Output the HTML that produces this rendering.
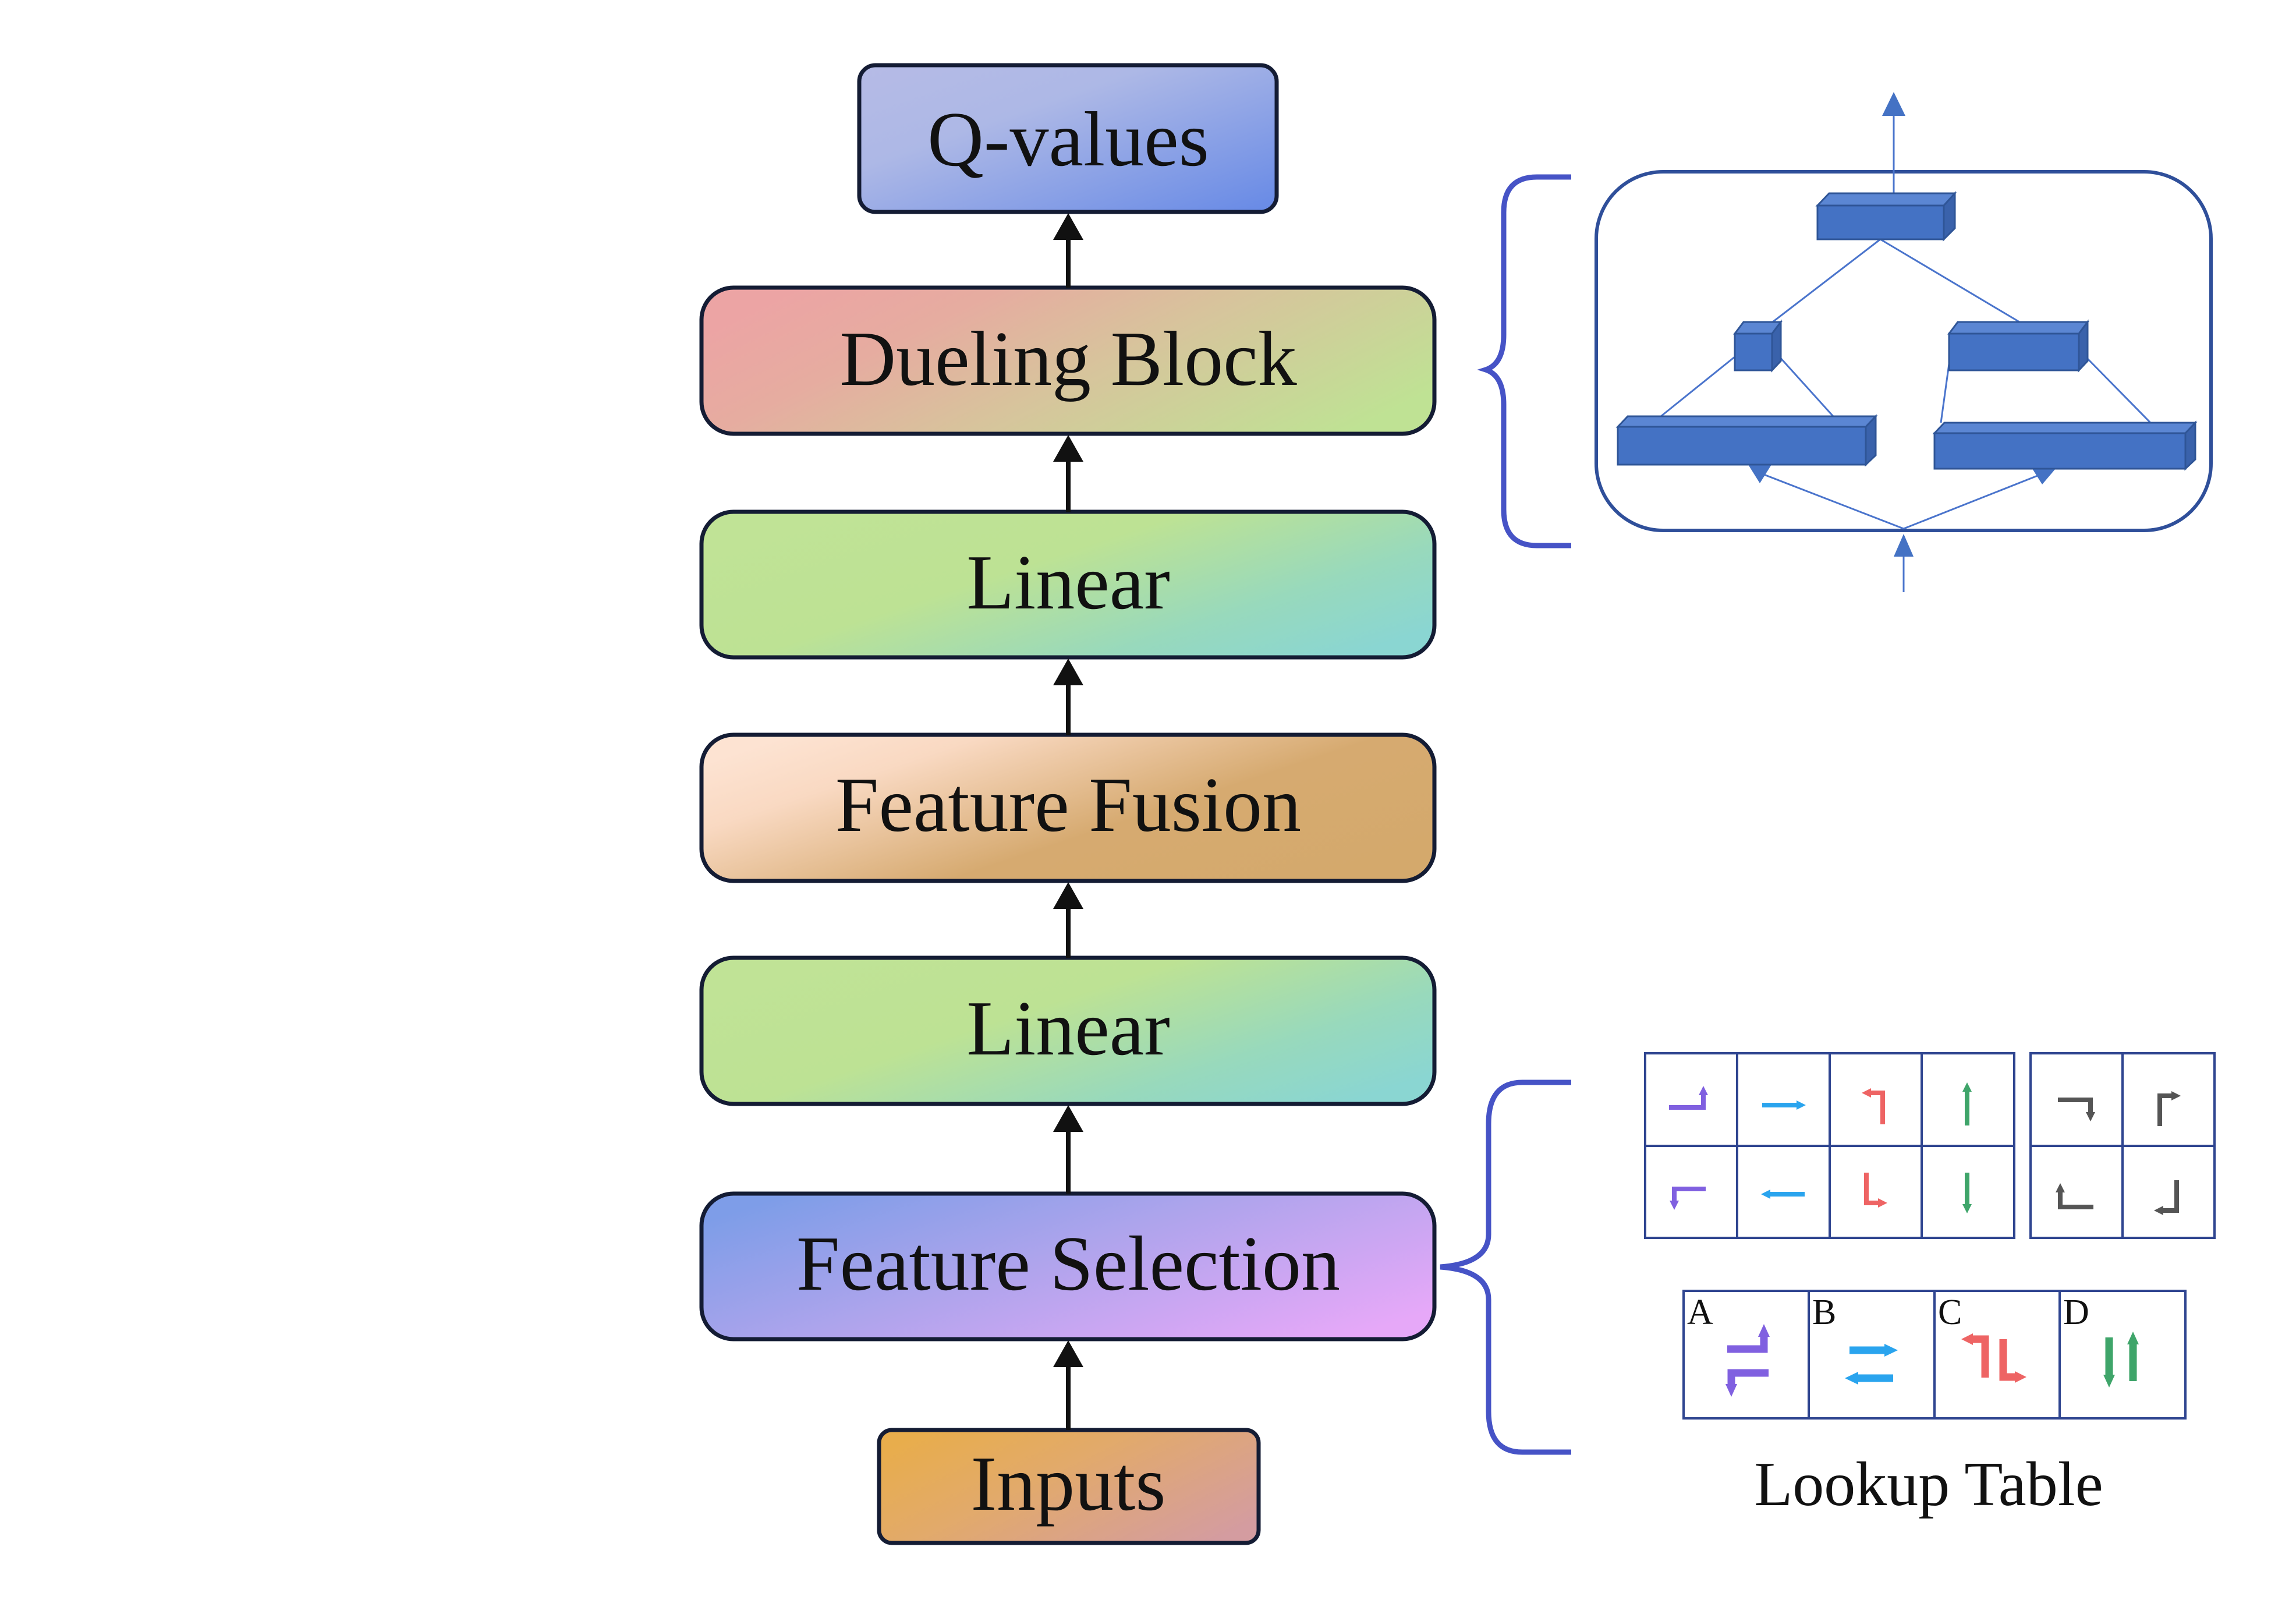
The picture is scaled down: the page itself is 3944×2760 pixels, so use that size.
<!DOCTYPE html>
<html><head><meta charset="utf-8"><style>
html,body{margin:0;padding:0;background:#fff;}
svg{display:block;}
text{font-family:"Liberation Serif",serif;}
</style></head><body>
<svg width="3944" height="2760" viewBox="0 0 3944 2760" xmlns="http://www.w3.org/2000/svg">
<defs>
<linearGradient id="gQ" x1="0" y1="0" x2="1" y2="1"><stop offset="0" stop-color="#b6bbe6"/><stop offset="0.35" stop-color="#adb8e6"/><stop offset="1" stop-color="#6689e6"/></linearGradient>
<linearGradient id="gD" x1="0" y1="0.3" x2="1" y2="0.7"><stop offset="0" stop-color="#eca4a4"/><stop offset="0.25" stop-color="#e6aca0"/><stop offset="0.55" stop-color="#d7c49c"/><stop offset="1" stop-color="#bfe294"/></linearGradient>
<linearGradient id="gL" x1="0" y1="0.2" x2="1" y2="0.8"><stop offset="0" stop-color="#c0e396"/><stop offset="0.4" stop-color="#bde294"/><stop offset="0.75" stop-color="#98d9bc"/><stop offset="1" stop-color="#8ad6d2"/></linearGradient>
<linearGradient id="gF" x1="0" y1="0.2" x2="1" y2="0.8"><stop offset="0" stop-color="#fde3d2"/><stop offset="0.2" stop-color="#f9d9c2"/><stop offset="0.6" stop-color="#d6aa70"/><stop offset="1" stop-color="#d4a96c"/></linearGradient>
<linearGradient id="gS" x1="0" y1="0.2" x2="1" y2="0.8"><stop offset="0" stop-color="#7e9de8"/><stop offset="0.45" stop-color="#aea4ec"/><stop offset="1" stop-color="#e6a8f8"/></linearGradient>
<linearGradient id="gI" x1="0" y1="0.2" x2="1" y2="0.8"><stop offset="0" stop-color="#e8ad4c"/><stop offset="0.4" stop-color="#e2aa6a"/><stop offset="1" stop-color="#d49ca0"/></linearGradient>
</defs>

<!-- main column boxes -->
<g stroke="#141c34" stroke-width="7">
<rect x="1476" y="112" width="717" height="252" rx="28" fill="url(#gQ)"/>
<rect x="1205" y="494" width="1259" height="251" rx="55" fill="url(#gD)"/>
<rect x="1205" y="879" width="1259" height="250" rx="55" fill="url(#gL)"/>
<rect x="1205" y="1262" width="1259" height="251" rx="55" fill="url(#gF)"/>
<rect x="1205" y="1645" width="1259" height="251" rx="55" fill="url(#gL)"/>
<rect x="1205" y="2050" width="1259" height="250" rx="55" fill="url(#gS)"/>
<rect x="1510" y="2456" width="652" height="194" rx="22" fill="url(#gI)"/>
</g>
<g font-size="134" fill="#111" text-anchor="middle">
<text x="1835" y="284">Q-values</text>
<text x="1835" y="661">Dueling Block</text>
<text x="1835" y="1045">Linear</text>
<text x="1835" y="1427">Feature Fusion</text>
<text x="1835" y="1811">Linear</text>
<text x="1835" y="2215">Feature Selection</text>
<text x="1835" y="2593">Inputs</text>
</g>

<!-- arrows -->
<g stroke="#111" stroke-width="8">
<line x1="1835" y1="494" x2="1835" y2="405"/>
<line x1="1835" y1="879" x2="1835" y2="785"/>
<line x1="1835" y1="1262" x2="1835" y2="1170"/>
<line x1="1835" y1="1645" x2="1835" y2="1555"/>
<line x1="1835" y1="2050" x2="1835" y2="1940"/>
<line x1="1835" y1="2456" x2="1835" y2="2345"/>
</g>
<g fill="#111">
<polygon points="1835,366 1809,412 1861,412"/>
<polygon points="1835,747 1809,793 1861,793"/>
<polygon points="1835,1131 1809,1177 1861,1177"/>
<polygon points="1835,1515 1809,1561 1861,1561"/>
<polygon points="1835,1898 1809,1944 1861,1944"/>
<polygon points="1835,2302 1809,2348 1861,2348"/>
</g>

<!-- braces -->
<g fill="none" stroke="#4653c6" stroke-width="9">
<path d="M2699 304 H2640 Q2583 304 2583 365 V575 Q2583 625 2552 635 Q2583 645 2583 695 V875 Q2583 937 2640 937 H2699"/>
<path d="M2699 1859 H2615 Q2557 1859 2557 1930 V2120 Q2557 2170 2474 2176 Q2557 2182 2557 2232 V2424 Q2557 2494 2615 2494 H2699"/>
</g>

<!-- dueling diagram -->
<rect x="2742" y="295" width="1056" height="616" rx="115" fill="none" stroke="#2f4f9a" stroke-width="6"/>
<g stroke="#4a74cc" stroke-width="3" fill="none">
<line x1="3253" y1="332" x2="3253" y2="195"/>
<line x1="3230" y1="411" x2="3045" y2="553"/>
<line x1="3230" y1="411" x2="3469" y2="553"/>
<line x1="2981" y1="612" x2="2853" y2="715"/>
<line x1="3056" y1="612" x2="3149" y2="715"/>
<line x1="3348" y1="625" x2="3334" y2="726"/>
<line x1="3582" y1="612" x2="3694" y2="726"/>
<line x1="3270" y1="908" x2="3030" y2="815"/>
<line x1="3270" y1="908" x2="3505" y2="815"/>
<line x1="3270" y1="1017" x2="3270" y2="950"/>
</g>
<g fill="#4472c4">
<polygon points="3253,158 3233,199 3273,199"/>
<polygon points="3270,917 3253,956 3287,956"/>
<polygon points="3003,798 3043,798 3023,830"/>
<polygon points="3491,805 3531,805 3508,832"/>
</g>
<g stroke="#2f5597" stroke-width="3">
<!-- top block -->
<polygon points="3122,353 3142,332 3358,332 3339,353" fill="#5b86d3"/>
<polygon points="3339,353 3358,332 3358,392 3339,411" fill="#3a62ab"/>
<rect x="3122" y="353" width="217" height="58" fill="#4472c4"/>
<!-- small cube -->
<polygon points="2980,573 2995,553 3059,553 3044,573" fill="#5b86d3"/>
<polygon points="3044,573 3059,553 3059,620 3044,636" fill="#3a62ab"/>
<rect x="2980" y="573" width="64" height="63" fill="#4472c4"/>
<!-- right mid -->
<polygon points="3348,573 3363,553 3586,553 3571,573" fill="#5b86d3"/>
<polygon points="3571,573 3586,553 3586,620 3571,636" fill="#3a62ab"/>
<rect x="3348" y="573" width="223" height="63" fill="#4472c4"/>
<!-- bottom left -->
<polygon points="2779,733 2796,715 3222,715 3205,733" fill="#5b86d3"/>
<polygon points="3205,733 3222,715 3222,782 3205,798" fill="#3a62ab"/>
<rect x="2779" y="733" width="426" height="65" fill="#4472c4"/>
<!-- bottom right -->
<polygon points="3323,744 3340,726 3771,726 3754,744" fill="#5b86d3"/>
<polygon points="3754,744 3771,726 3771,789 3754,805" fill="#3a62ab"/>
<rect x="3323" y="744" width="431" height="61" fill="#4472c4"/>
</g>

<!-- lookup grids -->
<g fill="none" stroke="#2f4590" stroke-width="4">
<rect x="2826" y="1809" width="634" height="317"/>
<line x1="2984" y1="1809" x2="2984" y2="2126"/>
<line x1="3143" y1="1809" x2="3143" y2="2126"/>
<line x1="3301" y1="1809" x2="3301" y2="2126"/>
<line x1="2826" y1="1968" x2="3460" y2="1968"/>
<rect x="3488" y="1809" width="316" height="317"/>
<line x1="3646" y1="1809" x2="3646" y2="2126"/>
<line x1="3488" y1="1968" x2="3804" y2="1968"/>
<rect x="2892" y="2217" width="862" height="219"/>
<line x1="3107" y1="2217" x2="3107" y2="2436"/>
<line x1="3323" y1="2217" x2="3323" y2="2436"/>
<line x1="3538" y1="2217" x2="3538" y2="2436"/>
</g>

<!-- grid icons -->
<g fill="none" stroke-width="8">
<g transform="translate(2826,1809)" stroke="#8060e0"><path d="M41 93 H100 V68"/></g>
<g transform="translate(2826,1968)" stroke="#8060e0"><path d="M104 74 H50 V98"/></g>
<g transform="translate(2984,1809)" stroke="#2aa4ee"><path d="M43 89 H106"/></g>
<g transform="translate(2984,1968)" stroke="#2aa4ee"><path d="M116 83 H53"/></g>
<g transform="translate(3143,1809)" stroke="#ee6464"><path d="M91 122 V68 H67"/></g>
<g transform="translate(3143,1968)" stroke="#ee6464"><path d="M63 46 V98 H87"/></g>
<g transform="translate(3301,1809)" stroke="#3fa56a"><path d="M78 124 V62"/></g>
<g transform="translate(3301,1968)" stroke="#3fa56a"><path d="M78 46 V104"/></g>
<g transform="translate(3488,1809)" stroke="#555"><path d="M47 80 H103 V105"/></g>
<g transform="translate(3646,1809)" stroke="#555"><path d="M64 125 V73 H88"/></g>
<g transform="translate(3488,1968)" stroke="#555"><path d="M108 105 H51 V76"/></g>
<g transform="translate(3646,1968)" stroke="#555"><path d="M93 59 V111 H66"/></g>
</g>
<g>
<polygon transform="translate(2826,1809)" fill="#8060e0" points="100,56 92,72 108,72"/>
<polygon transform="translate(2826,1968)" fill="#8060e0" points="50,110 42,94 58,94"/>
<polygon transform="translate(2984,1809)" fill="#2aa4ee" points="118,89 102,81 102,97"/>
<polygon transform="translate(2984,1968)" fill="#2aa4ee" points="41,83 57,75 57,91"/>
<polygon transform="translate(3143,1809)" fill="#ee6464" points="55,68 71,60 71,76"/>
<polygon transform="translate(3143,1968)" fill="#ee6464" points="99,98 83,90 83,106"/>
<polygon transform="translate(3301,1809)" fill="#3fa56a" points="78,50 70,66 86,66"/>
<polygon transform="translate(3301,1968)" fill="#3fa56a" points="78,116 70,100 86,100"/>
<polygon transform="translate(3488,1809)" fill="#555" points="103,117 95,101 111,101"/>
<polygon transform="translate(3646,1809)" fill="#555" points="100,73 84,65 84,81"/>
<polygon transform="translate(3488,1968)" fill="#555" points="51,64 43,80 59,80"/>
<polygon transform="translate(3646,1968)" fill="#555" points="54,111 70,103 70,119"/>
</g>

<!-- ABCD icons -->
<g font-size="62" fill="#111">
<text x="2898" y="2274">A</text>
<text x="3113" y="2274">B</text>
<text x="3329" y="2274">C</text>
<text x="3544" y="2274">D</text>
</g>
<g fill="none" stroke-width="13">
<g transform="translate(2892,2217)" stroke="#8060e0"><path d="M75 100 H138 V72"/><path d="M146 141 H82 V168"/></g>
<g transform="translate(3107,2217)" stroke="#2aa4ee"><path d="M70 102 H135"/><path d="M145 150 H80"/></g>
<g transform="translate(3323,2217)" stroke="#ee6464"><path d="M87 149 V83 H62"/><path d="M118 83 V148 H142"/></g>
<g transform="translate(3538,2217)" stroke="#3fa56a"><path d="M85 80 V148"/><path d="M126 155 V88"/></g>
</g>
<g>
<polygon transform="translate(2892,2217)" fill="#8060e0" points="138,57 128,79 148,79"/>
<polygon transform="translate(2892,2217)" fill="#8060e0" points="82,182 72,160 92,160"/>
<polygon transform="translate(3107,2217)" fill="#2aa4ee" points="153,102 130,91 130,113"/>
<polygon transform="translate(3107,2217)" fill="#2aa4ee" points="62,150 85,139 85,161"/>
<polygon transform="translate(3323,2217)" fill="#ee6464" points="46,83 66,73 66,93"/>
<polygon transform="translate(3323,2217)" fill="#ee6464" points="158,148 138,138 138,158"/>
<polygon transform="translate(3538,2217)" fill="#3fa56a" points="85,166 75,144 95,144"/>
<polygon transform="translate(3538,2217)" fill="#3fa56a" points="126,70 116,92 136,92"/>
</g>

<text x="3313" y="2585" font-size="108" fill="#111" text-anchor="middle">Lookup Table</text>
</svg>
</body></html>
